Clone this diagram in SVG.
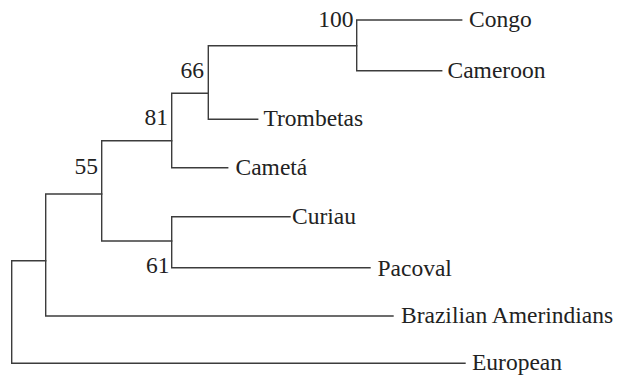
<svg xmlns="http://www.w3.org/2000/svg" width="620" height="377" viewBox="0 0 620 377">
  <style>
    .br { fill: none; stroke: #3c3c3c; stroke-width: 1.4; stroke-linecap: square; }
    text { font-family: 'Liberation Serif', 'DejaVu Serif', serif; font-size: 23.5px; fill: #222; }
    .bs { text-anchor: end; }
  </style>
  <rect width="620" height="377" fill="#fff"/>
  <g id="connectors">
    <!-- root -->
    <path class="br" d="M465,363.3 H11.7 V260.7 H45.7"/>
    <!-- Amerindian split -->
    <path class="br" d="M393,316 H45.7 V194 H101.7"/>
    <!-- node 55 -->
    <path class="br" d="M171.7,140.7 H101.7 V241 H171.7"/>
    <!-- node 61 -->
    <path class="br" d="M290,216.7 H171.7 V267.7 H370"/>
    <!-- node 81 -->
    <path class="br" d="M208.3,93.3 H171.7 V167.7 H227.7"/>
    <!-- node 66 -->
    <path class="br" d="M356.7,45.7 H208.3 V119.3 H257.7"/>
    <!-- node 100 -->
    <path class="br" d="M461.7,20 H356.7 V70.7 H441.7"/>
  </g>
  <g id="node-congo"><text x="469" y="27">Congo</text></g>
  <g id="node-cameroon"><text x="447.5" y="77.5">Cameroon</text></g>
  <g id="node-trombetas"><text x="263.5" y="126">Trombetas</text></g>
  <g id="node-cameta"><text x="235.5" y="175">Cametá</text></g>
  <g id="node-curiau"><text x="292" y="224">Curiau</text></g>
  <g id="node-pacoval"><text x="377.5" y="275.5">Pacoval</text></g>
  <g id="node-amerindians"><text x="401" y="323">Brazilian Amerindians</text></g>
  <g id="node-european"><text x="472" y="370">European</text></g>
  <g id="support">
    <text class="bs" x="353.5" y="27">100</text>
    <text class="bs" x="204" y="78">66</text>
    <text class="bs" x="168" y="125">81</text>
    <text class="bs" x="98" y="173.5">55</text>
    <text class="bs" x="169.5" y="273">61</text>
  </g>
</svg>
